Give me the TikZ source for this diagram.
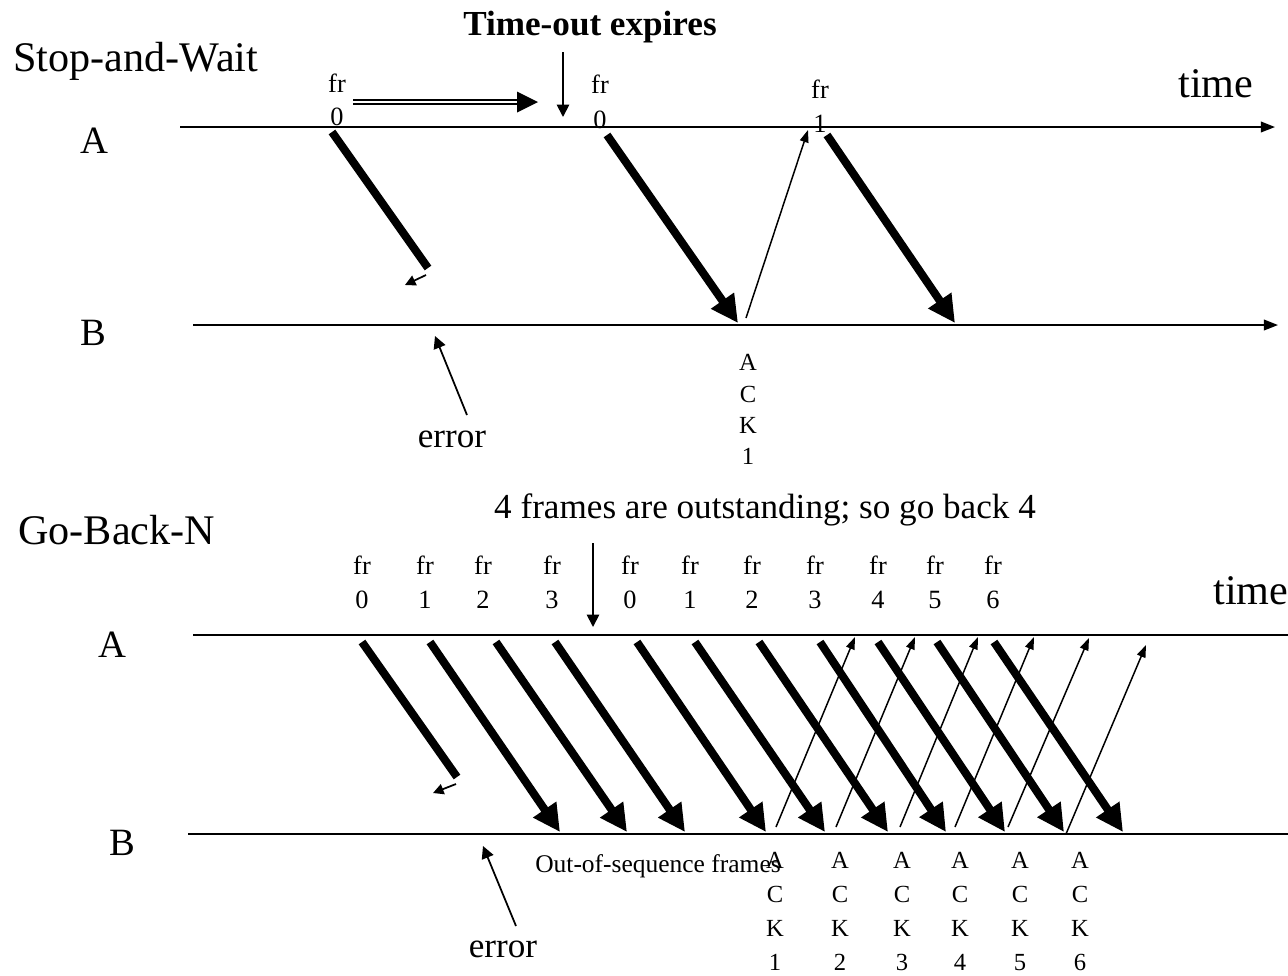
\documentclass[tikz,border=0pt]{standalone}
\usepackage{fontspec}
\setmainfont{Liberation Serif}
\usetikzlibrary{arrows.meta,calc}
\begin{document}
\begin{tikzpicture}[x=0.02cm,y=-0.02cm,
  txt/.style={inner sep=0pt,anchor=base},
  frl/.style={txt,font=\fontsize{15}{17}\selectfont},
  ackl/.style={txt,font=\fontsize{14}{16}\selectfont},
  heading/.style={txt,anchor=base west,font=\fontsize{24}{28}\selectfont},
  stationl/.style={txt,font=\fontsize{22}{26}\selectfont},
  errl/.style={txt,font=\fontsize{20}{24}\selectfont},
  timel/.style={txt,font=\fontsize{24}{28}\selectfont},
  timeline/.style={line width=1.1pt},
  timelinearrow/.style={timeline,-{Triangle[length=8pt,width=6pt]}},
  dataarrow/.style={line width=4.6pt,-{Triangle[length=15.5pt,width=15pt]}},
  lostline/.style={line width=4.6pt},
  lostarrow/.style={line width=1pt,-{Triangle[length=6pt,width=6pt]}},
  ackarrow/.style={line width=0.85pt,-{Triangle[length=7pt,width=5pt]}},
  pointer/.style={line width=1pt,-{Triangle[length=7pt,width=7pt]}},
]
\useasboundingbox (0,0) rectangle (1288,975);

% ================= Stop-and-Wait =================
\node[heading] (sw) at (13,71) {Stop-and-Wait};
\node[txt,font=\bfseries\fontsize{20}{24}\selectfont] (tox) at (590,35) {Time-out expires};
\node[timel] (t1) at (1216,97) {time};
\node[stationl] (A1) at (94,153) {A};
\node[stationl] (B1) at (93,345) {B};

\coordinate (a1s) at (180,127); \coordinate (a1e) at (1275,127);
\coordinate (b1s) at (193,325); \coordinate (b1e) at (1278,325);
\draw[timelinearrow] (a1s) -- (a1e);
\draw[timelinearrow] (b1s) -- (b1e);

\foreach \x/\n/\ya/\yb/\id in {337/0/92/125/a,600/0/93/128/b,820/1/98/132/c}{
  \node[frl] (fra\id) at (\x,\ya) {fr};
  \node[frl] (fna\id) at (\x,\yb) {\n};
}

% double arrow (time-out interval)
\coordinate (d1) at (353,102); \coordinate (d2) at (519,102); \coordinate (d3) at (538,102);
\draw[line width=0.8pt,double,double distance=1.5pt] (d1) -- (d2);
\fill (d3) -- ($(d2)+(-2,-10.5)$) -- ($(d2)+(-2,10.5)$) -- cycle;

% time-out pointer
\coordinate (tos) at (563,52); \coordinate (toe) at (563,117);
\draw[pointer] (tos) -- (toe);

% frames
\coordinate (f1s) at (332,132); \coordinate (f1e) at (428,268);
\draw[lostline] (f1s) -- (f1e);
\coordinate (l1s) at (426,275); \coordinate (l1e) at (405,285);
\draw[lostarrow] (l1s) -- (l1e);
\coordinate (f2s) at (607,135); \coordinate (f2e) at (738,323);
\draw[dataarrow] (f2s) -- (f2e);
\coordinate (k1s) at (746,318); \coordinate (k1e) at (808,130);
\draw[ackarrow] (k1s) -- (k1e);
\coordinate (f3s) at (827,135); \coordinate (f3e) at (955,323);
\draw[dataarrow] (f3s) -- (f3e);

% error
\node[errl] (e1) at (452,447) {error};
\coordinate (e1s) at (467,415); \coordinate (e1e) at (435,336);
\draw[pointer] (e1s) -- (e1e);

% ACK 1
\foreach \c/\y/\id in {A/370/1,C/402/2,K/433/3,1/464/4}{
  \node[ackl] (ackt\id) at (748,\y) {\c};
}

% ================= Go-Back-N =================
\node[heading] (gbn) at (18,544) {Go-Back-N};
\node[txt,font=\fontsize{20}{24}\selectfont] (four) at (765,518) {4 frames are outstanding; so go back 4};
\node[timel,anchor=base west] (t2) at (1213,604) {time};
\node[stationl] (A2) at (112,657) {A};
\node[stationl] (B2) at (122,855) {B};

\coordinate (a2s) at (193,635); \coordinate (a2e) at (1288,635);
\coordinate (b2s) at (188,834); \coordinate (b2e) at (1288,834);
\draw[timeline] (a2s) -- (a2e);
\draw[timeline] (b2s) -- (b2e);

\coordinate (gbs) at (593,543); \coordinate (gbe) at (593,627);
\draw[pointer] (gbs) -- (gbe);

\foreach \x/\n/\id in {362/0/1,425/1/2,483/2/3,552/3/4,630/0/5,690/1/6,752/2/7,815/3/8,878/4/9,935/5/10,993/6/11}{
  \node[frl] (frb\id) at (\x,574) {fr};
  \node[frl] (fnb\id) at (\x,608) {\n};
}

% lost frame
\coordinate (g1s) at (362,642); \coordinate (g1e) at (457,777);
\draw[lostline] (g1s) -- (g1e);
\coordinate (l2s) at (456,784); \coordinate (l2e) at (433,793);
\draw[lostarrow] (l2s) -- (l2e);

% data frames
\foreach \xs/\xe/\id in {430/560/2,496/627/3,555/685/4,637/766/5,695/825/6,759/888/7,820/946/8,878/1005/9,937/1064/10,994/1123/11}{
  \coordinate (gs\id) at (\xs,642);
  \coordinate (ge\id) at (\xe,832);
  \draw[dataarrow] (gs\id) -- (ge\id);
}

% acks
\foreach \xs/\ys/\xe/\ye/\id in {776/827/855/637/1,836/827/915/637/2,900/827/978/637/3,955/827/1034/637/4,1008/827/1089/638/5,1066/834/1146/645/6}{
  \coordinate (ks\id) at (\xs,\ys);
  \coordinate (ke\id) at (\xe,\ye);
  \draw[ackarrow] (ks\id) -- (ke\id);
}

% labels below B
\node[txt,font=\fontsize{14.5}{17}\selectfont] (oos) at (658,872) {Out-of-sequence frames};
\node[errl] (e2) at (503,957) {error};
\coordinate (e2s) at (516,926); \coordinate (e2e) at (483,846);
\draw[pointer] (e2s) -- (e2e);

\foreach \x/\n in {775/1,840/2,902/3,960/4,1020/5,1080/6}{
  \node[ackl] (ackA\n) at (\x,868) {A};
  \node[ackl] (ackC\n) at (\x,902) {C};
  \node[ackl] (ackK\n) at (\x,936) {K};
  \node[ackl] (ackN\n) at (\x,970) {\n};
}
\end{tikzpicture}
\end{document}
